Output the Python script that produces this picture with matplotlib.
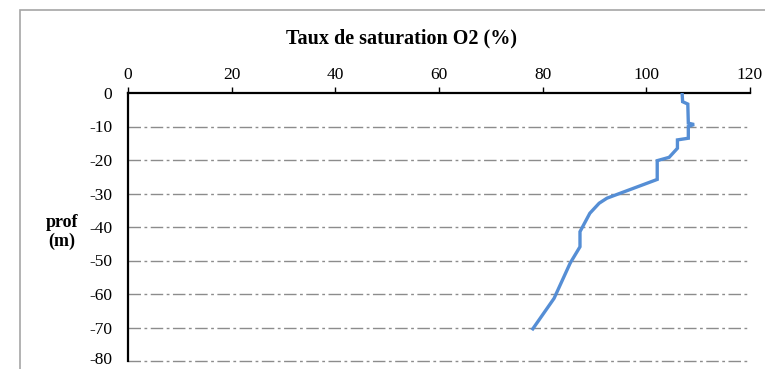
import matplotlib.pyplot as plt
from matplotlib.patches import Rectangle
from matplotlib.transforms import ScaledTranslation

# Oxygen saturation profile (%), by depth (m)
saturation = [106.9, 107.0, 108.0, 108.1, 109.2, 108.1, 108.1, 106.0, 106.0,
              104.4, 102.1, 102.1, 92.4, 90.9, 89.1, 87.2, 87.2, 85.3, 82.2, 78.1]
depth = [0.0, -2.6, -3.3, -9.0, -9.4, -10.0, -13.5, -14.0, -16.5,
         -19.2, -20.2, -25.8, -31.4, -32.9, -35.9, -41.4, -45.9, -50.8, -61.3, -70.4]

x_ticks = [0, 20, 40, 60, 80, 100, 120]
y_ticks = [0, -10, -20, -30, -40, -50, -60, -70, -80]

plt.rcParams["font.family"] = ["Liberation Serif", "DejaVu Serif"]
plt.rcParams["axes.unicode_minus"] = False

fig = plt.figure(figsize=(7.65, 3.69), dpi=100)
fig.patch.set_facecolor("white")

# chart frame, partly outside the canvas
fig.patches.append(Rectangle((20 / 765, -0.5), 1.5, 1.5 - 10 / 369,
                             transform=fig.transFigure, fill=False,
                             edgecolor="#a6a6a6", linewidth=1.2))

ax = fig.add_axes([128 / 765, 1 - 361 / 369, 622 / 765, 268 / 369])

for y in y_ticks[1:]:
    ax.axhline(y, color="#8c8c8c", linewidth=1.0,
               linestyle=(0, (9, 2.5, 2, 2.5)), zorder=1, clip_on=False)

ax.plot(saturation, depth, color="#558ed5", linewidth=2.4, zorder=3,
        solid_joinstyle="miter")

ax.set_xlim(0, 120)
ax.set_ylim(-80, 0)
ax.set_xticks(x_ticks)
ax.set_yticks(y_ticks)
ax.xaxis.tick_top()
ax.tick_params(axis="x", direction="out", length=4, width=1, pad=3, labelsize=12.5)
ax.tick_params(axis="y", length=0, pad=11.5, labelsize=12.5)

# lift the bottom depth label so it stays inside the canvas
fig.canvas.draw()
bottom_label = ax.get_yticklabels()[-1]
bottom_label.set_transform(bottom_label.get_transform()
                           + ScaledTranslation(0, 3 / 100, fig.dpi_scale_trans))

ax.spines["right"].set_visible(False)
ax.spines["bottom"].set_visible(False)
ax.spines["top"].set_linewidth(1.6)
ax.spines["left"].set_linewidth(1.6)

fig.text(401 / 765, 1 - 38 / 369, "Taux de saturation O2 (%)", ha="center",
         va="center", fontsize=14.5, fontweight="bold")
fig.text(62 / 765, 1 - 232 / 369, "prof\n(m)", ha="center", va="center",
         fontsize=13, fontweight="bold", linespacing=1.15)

fig.savefig("out.png", dpi=100)
